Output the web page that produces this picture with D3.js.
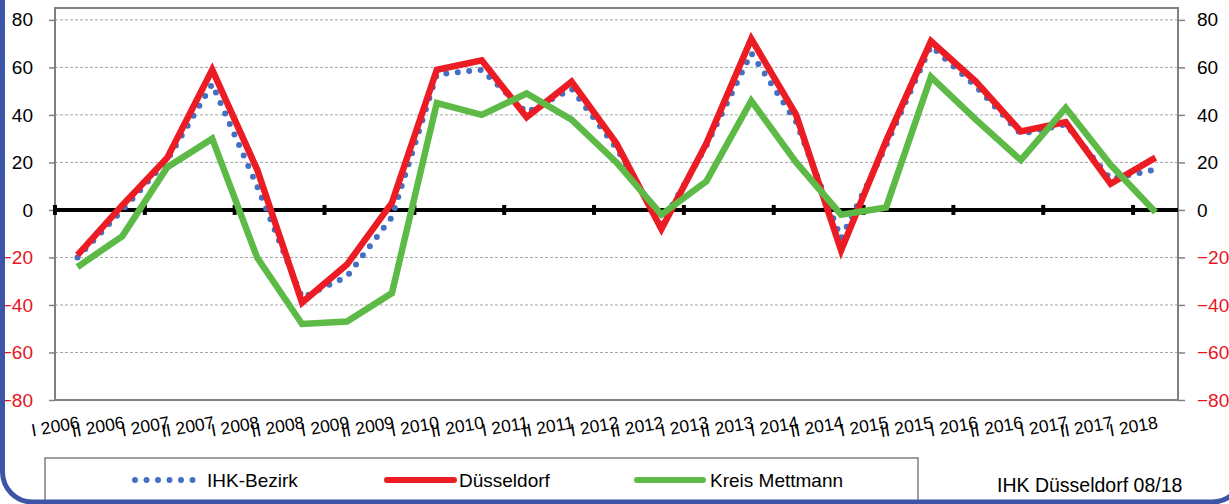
<!DOCTYPE html>
<html>
<head>
<meta charset="utf-8">
<script src="https://cdn.jsdelivr.net/npm/d3@7"></script>
<style>
  body { margin: 0; background: #fff; }
  svg { display: block; font-family: "Liberation Sans", Arial, sans-serif; }
</style>
</head>
<body>
<div id="chart"></div>
<script>
var categories = ["I 2006", "II 2006", "I 2007", "II 2007", "I 2008", "II 2008", "I 2009", "II 2009",
  "I 2010", "II 2010", "I 2011", "II 2011", "I 2012", "II 2012", "I 2013", "II 2013",
  "I 2014", "II 2014", "I 2015", "II 2015", "I 2016", "II 2016", "I 2017", "II 2017", "I 2018"];

var ihkBezirk   = [-20, 0, 21, 53, 10, -37, -28, -3, 57, 59, 41, 51, 26, -6, 27, 66, 37, -12, 27, 69, 52, 32, 36, 13, 17];
var duesseldorf = [-19, 2, 22, 59, 17, -39, -23, 3, 59, 63, 39, 54, 28, -8, 28, 72, 40, -17, 29, 71, 54, 33, 37, 11, 22];
var mettmann    = [-24, -11, 18, 30, -20, -48, -47, -35, 45, 40, 49, 38, 20, -2, 12, 46, 20, -2, 1, 56, 38, 21, 43, 19, -1];

var yTicks = [-80, -60, -40, -20, 0, 20, 40, 60, 80];

var seriesNames = ["IHK-Bezirk", "Düsseldorf", "Kreis Mettmann"];
var sourceNote = "IHK Düsseldorf 08/18";

function init()
{
  var W = 1229, H = 504;
  var left = 55, right = 1178, top = 8, bottom = 400;

  var svg = d3.select("#chart")
    .append("svg")
    .attr("width", W)
    .attr("height", H);

  svg.append("rect")
    .attr("width", W)
    .attr("height", H)
    .style("fill", "#fff");

  var xScale = d3.scaleBand()
    .domain(categories)
    .range([left, right]);

  var yScale = d3.scaleLinear()
    .domain([-80, 85])
    .range([bottom, top]);

  function cx(i) { return xScale(categories[i]) + xScale.bandwidth() / 2; }

  // grid
  svg.selectAll(".grid")
    .data(yTicks.filter(function(d) { return d !== 0; }))
    .enter()
    .append("line")
      .attr("x1", left)
      .attr("x2", right)
      .attr("y1", function(d) { return yScale(d); })
      .attr("y2", function(d) { return yScale(d); })
      .style("stroke", "#a6a6a6")
      .style("stroke-width", 1)
      .style("stroke-dasharray", "3,2");

  // plot frame
  svg.append("rect")
    .attr("x", left)
    .attr("y", top)
    .attr("width", right - left)
    .attr("height", bottom - top)
    .style("fill", "none")
    .style("stroke", "#808080")
    .style("stroke-width", 2);

  // axes
  var yAxisL = d3.axisLeft(yScale).tickValues(yTicks).tickSize(6).tickPadding(16);
  var yAxisR = d3.axisRight(yScale).tickValues(yTicks).tickSize(7).tickPadding(12);

  var gl = svg.append("g")
    .attr("transform", "translate(" + left + ",0)")
    .call(yAxisL);
  var gr = svg.append("g")
    .attr("transform", "translate(" + right + ",0)")
    .call(yAxisR);

  [gl, gr].forEach(function(g) {
    g.select(".domain").remove();
    g.selectAll(".tick line").style("stroke", "#808080").style("stroke-width", 1.5);
    g.selectAll(".tick text")
      .style("font-size", "19px")
      .style("font-family", "Liberation Sans, Arial, sans-serif")
      .style("fill", function(d) { return d < 0 ? "#e8141e" : "#000"; });
  });

  // zero line with tick marks
  svg.append("line")
    .attr("x1", left)
    .attr("x2", right)
    .attr("y1", yScale(0))
    .attr("y2", yScale(0))
    .style("stroke", "#000")
    .style("stroke-width", 4);

  var tickCats = categories.filter(function(d, i) { return i % 2 === 0; });
  svg.selectAll(".zt")
    .data(tickCats)
    .enter()
    .append("rect")
      .attr("x", function(d) { return xScale(d) - 2; })
      .attr("y", yScale(0) - 5)
      .attr("width", 4)
      .attr("height", 10)
      .style("fill", "#000");

  // x labels
  svg.selectAll(".xl")
    .data(categories)
    .enter()
    .append("text")
      .attr("transform", function(d, i) { return "translate(" + (cx(i) + 3) + ",428) rotate(-10)"; })
      .style("text-anchor", "end")
      .style("font-size", "17.5px")
      .style("fill", "#000")
      .text(function(d) { return d; });

  var line = d3.line()
    .x(function(d, i) { return cx(i); })
    .y(function(d) { return yScale(d); });

  svg.append("path")
    .datum(ihkBezirk)
    .attr("d", line)
    .style("fill", "none")
    .style("stroke", "#4470c4")
    .style("stroke-width", 6)
    .style("stroke-linecap", "round")
    .style("stroke-dasharray", "0,11.5");

  svg.append("path")
    .datum(duesseldorf)
    .attr("d", line)
    .style("fill", "none")
    .style("stroke", "#ec1c24")
    .style("stroke-width", 6.5)
    .style("stroke-linejoin", "miter");

  svg.append("path")
    .datum(mettmann)
    .attr("d", line)
    .style("fill", "none")
    .style("stroke", "#5dba47")
    .style("stroke-width", 6.5);

  // legend
  var legend = svg.append("g").attr("class", "legend");

  legend.append("rect")
    .attr("x", 45)
    .attr("y", 458)
    .attr("width", 873)
    .attr("height", 44)
    .style("fill", "#fff")
    .style("stroke", "#7f7f7f")
    .style("stroke-width", 1.5);

  var items = [
    {x1: 135, x2: 201, tx: 207, color: "#4470c4", dash: "0,11.5"},
    {x1: 387, x2: 454, tx: 459, color: "#ec1c24", dash: null},
    {x1: 637, x2: 703, tx: 710, color: "#5dba47", dash: null}
  ];

  items.forEach(function(it, i) {
    legend.append("line")
      .attr("x1", it.x1)
      .attr("x2", it.x2)
      .attr("y1", 480)
      .attr("y2", 480)
      .style("stroke", it.color)
      .style("stroke-width", 6)
      .style("stroke-linecap", "round")
      .style("stroke-dasharray", it.dash);
    legend.append("text")
      .attr("x", it.tx)
      .attr("y", 487)
      .style("font-size", "19px")
      .text(seriesNames[i]);
  });

  svg.append("text")
    .attr("x", 997)
    .attr("y", 492)
    .style("font-size", "19.5px")
    .text(sourceNote);

  // outer blue frame
  svg.append("rect")
    .attr("x", 2.5)
    .attr("y", -40)
    .attr("width", 1240)
    .attr("height", 542)
    .attr("rx", 30)
    .style("fill", "none")
    .style("stroke", "#3d55a6")
    .style("stroke-width", 5);
}

window.onload = init();
</script>
</body>
</html>
